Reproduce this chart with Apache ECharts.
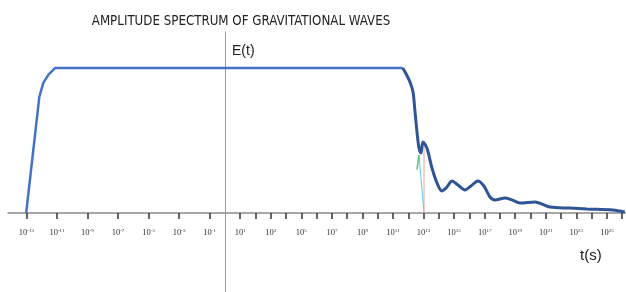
<!DOCTYPE html>
<html>
<head>
<meta charset="utf-8">
<script src="https://cdn.jsdelivr.net/npm/echarts@6/dist/echarts.min.js"></script>
<style>
  html, body { margin: 0; padding: 0; background: #fff; }
  #chart { width: 626px; height: 292px; }
</style>
</head>
<body>
<div id="chart"></div>
<script>
// exponent of t (x) and amplitude E (y, plateau = 1)
var riseExp = [-13.01, -12.15, -11.89, -11.56, -11.11, 11.63];
var riseVal = [0, 0.80, 0.897, 0.952, 1.0, 1.0];

var tailExp = [11.63, 11.79, 12.11, 12.31, 12.44, 12.57, 12.70, 12.83, 12.96, 13.22, 13.55, 13.88, 14.20, 14.53, 14.86, 15.25, 15.71, 16.10, 16.56, 16.95, 17.35, 17.67, 18.33, 18.78, 19.31, 20.29, 21.27, 22.58, 23.69, 25.39, 26.17];
var tailVal = [1.0, 0.972, 0.903, 0.834, 0.697, 0.559, 0.448, 0.414, 0.490, 0.448, 0.310, 0.207, 0.152, 0.179, 0.221, 0.193, 0.159, 0.186, 0.221, 0.186, 0.110, 0.090, 0.103, 0.090, 0.069, 0.076, 0.041, 0.034, 0.028, 0.021, 0.007];

// stray fitting strokes near the first peak
var cyanExp = [12.70, 13.03];
var cyanVal = [0.40, 0];
var pinkExp = [13.03, 13.03];
var pinkVal = [0.49, 0];
var greenExp = [12.57, 12.70];
var greenVal = [0.30, 0.40];

var labelExps = [-13, -11, -9, -7, -5, -3, -1, 1, 3, 5, 7, 9, 11, 13, 15, 17, 19, 21, 23, 25];
var tickExps = [-13, -11, -9, -7, -5, -3, -1];
for (var i = 1; i <= 26; i++) tickExps.push(i);

function pairs(xs, ys) {
    var out = [];
    for (var i = 0; i < xs.length; i++) out.push([xs[i], ys[i]]);
    return out;
}

var xMin = -14.2, xMax = 26.25;

var chart = echarts.init(document.getElementById('chart'));
chart.setOption({
    animation: false,
    title: {
        text: 'AMPLITUDE SPECTRUM OF GRAVITATIONAL WAVES',
        left: 236,
        top: 10,
        textAlign: 'center',
        textStyle: {
            fontFamily: '"Liberation Sans Narrow", "DejaVu Sans Condensed", sans-serif',
            fontSize: 13.2,
            fontWeight: 'normal',
            color: '#222'
        }
    },
    graphic: [
        { type: 'text', left: 232, top: 44, style: { text: 'E(t)', fontSize: 14, fill: '#222', fontFamily: '"Liberation Sans Narrow", sans-serif' } },
        { type: 'text', left: 580, top: 248, style: { text: 't(s)', fontSize: 15, fill: '#222', fontFamily: '"Liberation Sans Narrow", sans-serif' } }
    ],
    grid: [
        { left: 8, right: 0, top: 32, bottom: 79, outerBoundsMode: 'none', containLabel: false },
        { left: 8, right: 0, top: 213, bottom: 0, outerBoundsMode: 'none', containLabel: false }
    ],
    xAxis: [
        {
            type: 'value',
            gridIndex: 0,
            min: xMin,
            max: xMax,
            position: 'bottom',
            splitLine: { show: false },
            axisLine: { onZero: false, lineStyle: { color: '#8a8a8a', width: 1.5 } },
            axisTick: { show: true, customValues: tickExps, length: 6, lineStyle: { color: '#333', width: 1.5 } },
            axisLabel: {
                customValues: labelExps,
                margin: 15,
                formatter: function (v) { return '{b|10}{s|' + v + '}'; },
                rich: {
                    b: { fontSize: 8.5, color: '#333', fontFamily: 'Liberation Serif' },
                    s: { fontSize: 5, color: '#333', padding: [0, 0, 5, 0], fontFamily: 'Liberation Serif' }
                }
            }
        },
        {
            type: 'value',
            gridIndex: 1,
            min: xMin,
            max: xMax,
            show: false
        }
    ],
    yAxis: [
        {
            type: 'value',
            gridIndex: 0,
            min: 0,
            max: 1.248,
            splitLine: { show: false },
            axisLine: { onZero: true, lineStyle: { color: '#9a9a9a', width: 1 } },
            axisTick: { show: false },
            axisLabel: { show: false }
        },
        {
            type: 'value',
            gridIndex: 1,
            min: -1,
            max: 0,
            splitLine: { show: false },
            axisLine: { onZero: true, lineStyle: { color: '#9a9a9a', width: 1 } },
            axisTick: { show: false },
            axisLabel: { show: false }
        }
    ],
    series: [
        {
            type: 'line', data: pairs(cyanExp, cyanVal), symbol: 'none',
            lineStyle: { color: '#5bc8e8', width: 1 }
        },
        {
            type: 'line', data: pairs(pinkExp, pinkVal), symbol: 'none',
            lineStyle: { color: '#f0a0a0', width: 1 }
        },
        {
            type: 'line', data: pairs(greenExp, greenVal), symbol: 'none',
            lineStyle: { color: '#4fc08a', width: 1.5 }
        },
        {
            type: 'line', data: pairs(riseExp, riseVal), symbol: 'none',
            lineStyle: { color: '#4472c4', width: 2.5 }
        },
        {
            type: 'line', data: pairs(tailExp, tailVal), symbol: 'none', smooth: 0.3,
            lineStyle: { color: '#2f5597', width: 3 }
        }
    ]
});
</script>
</body>
</html>
